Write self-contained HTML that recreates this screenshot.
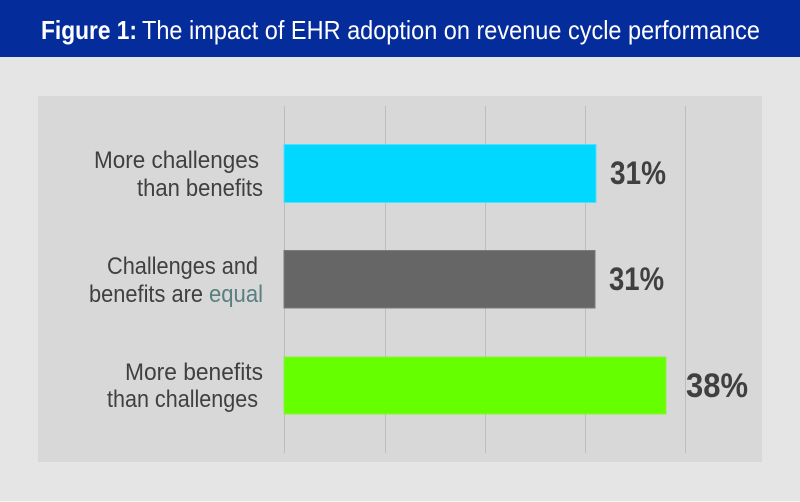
<!DOCTYPE html>
<html><head><meta charset="utf-8"><style>
html,body{margin:0;padding:0;width:800px;height:502px;overflow:hidden;background:#e5e5e5;}
svg{display:block;}
</style></head><body>
<svg width="800" height="502" viewBox="0 0 800 502" xmlns="http://www.w3.org/2000/svg">
<rect x="0" y="0" width="800" height="502" fill="#e5e5e5"/>
<rect x="0" y="501" width="800" height="1" fill="#f6f6f6"/>
<rect x="0" y="0" width="800" height="57" fill="#052c9b"/>
<g font-family="Liberation Sans, sans-serif" fill="#ffffff">
<text x="41" y="39" font-size="26" font-weight="bold" textLength="96" lengthAdjust="spacingAndGlyphs">Figure 1:</text>
<text x="142" y="39" font-size="26" textLength="618" lengthAdjust="spacingAndGlyphs">The impact of EHR adoption on revenue cycle performance</text>
</g>
<rect x="38" y="96" width="724" height="366" fill="#d8d8d8"/>
<g stroke="#bdbdbd" stroke-width="1">
<line x1="284.5" y1="106" x2="284.5" y2="453"/>
<line x1="385.5" y1="106" x2="385.5" y2="453"/>
<line x1="485.5" y1="106" x2="485.5" y2="453"/>
<line x1="585.5" y1="106" x2="585.5" y2="453"/>
<line x1="685.5" y1="106" x2="685.5" y2="453"/>
</g>
<rect x="284" y="144.5" width="312" height="58" fill="#00d8ff" stroke="#4fe0ff" stroke-width="1"/>
<rect x="284" y="250.5" width="311" height="57.5" fill="#666666" stroke="#7a7a7a" stroke-width="1"/>
<rect x="284" y="357" width="382" height="57" fill="#66ff00" stroke="#8af040" stroke-width="1"/>
<g font-family="Liberation Sans, sans-serif" fill="#404040" font-size="24">
<text x="94" y="168" textLength="165" lengthAdjust="spacingAndGlyphs">More challenges</text>
<text x="137" y="196" textLength="126" lengthAdjust="spacingAndGlyphs">than benefits</text>
<text x="107" y="274" textLength="151" lengthAdjust="spacingAndGlyphs">Challenges and</text>
<text x="89" y="302" textLength="114" lengthAdjust="spacingAndGlyphs">benefits are</text>
<text x="209" y="302" textLength="54" lengthAdjust="spacingAndGlyphs" fill="#5a7f80">equal</text>
<text x="125" y="380" textLength="138" lengthAdjust="spacingAndGlyphs">More benefits</text>
<text x="107" y="407" textLength="151" lengthAdjust="spacingAndGlyphs">than challenges</text>
</g>
<g font-family="Liberation Sans, sans-serif" fill="#404040" font-weight="bold">
<text x="610" y="184" font-size="32" textLength="56" lengthAdjust="spacingAndGlyphs">31%</text>
<text x="609" y="290" font-size="32" textLength="55" lengthAdjust="spacingAndGlyphs">31%</text>
<text x="686" y="397" font-size="34" textLength="62" lengthAdjust="spacingAndGlyphs">38%</text>
</g>
</svg>
</body></html>
